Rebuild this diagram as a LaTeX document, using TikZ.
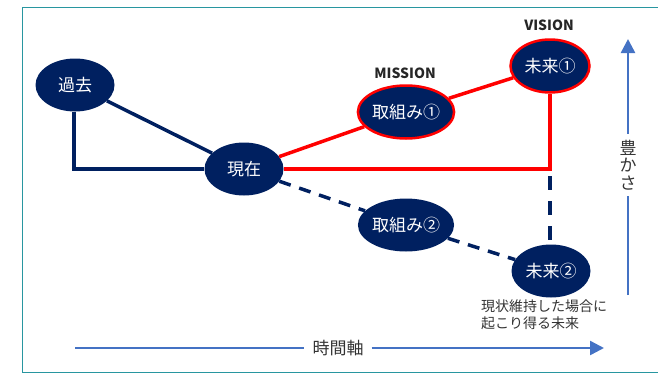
\documentclass[tikz,border=0pt]{standalone}
\usepackage{fontspec}
\setmainfont{Noto Sans CJK JP}
\usetikzlibrary{shapes.geometric,arrows.meta}
\definecolor{navy}{RGB}{0,32,96}
\definecolor{axisblue}{RGB}{68,114,196}
\definecolor{frameteal}{RGB}{40,150,160}
\begin{document}
\begin{tikzpicture}[x=1pt,y=-1pt,
  blob/.style={ellipse,fill=navy,text=white,inner sep=0pt,minimum width=79pt,minimum height=53pt,font=\fontsize{17}{19}\selectfont},
  redblob/.style={blob,draw=red,line width=2.5pt},
  solidline/.style={draw=navy,line width=3.5pt},
  redline/.style={draw=red,line width=3.5pt},
  dashline/.style={draw=navy,line width=3.5pt,dash pattern=on 12pt off 9pt},
  axis/.style={draw=axisblue,line width=2.5pt},
  lbl/.style={font=\fontsize{14}{16}\selectfont\bfseries,text=black!85},
  axislbl/.style={font=\fontsize{17}{19}\selectfont,text=black!80,inner sep=0pt}]
\useasboundingbox (0,0) rectangle (658,375);
\draw[frameteal,line width=1.5pt] (22.5,7.5) rectangle (663,372.5);
% nodes
\node[blob] (kako) at (75,85) {過去};
\node[blob] (genzai) at (244,169) {現在};
\node[redblob] (tori1) at (406,112) {取組み①};
\node[redblob] (mirai1) at (550,66) {未来①};
\node[blob] (tori2) at (406,225) {取組み②};
\node[blob] (mirai2) at (551,271) {未来②};
\coordinate (corner1) at (74,169);
\coordinate (corner2) at (550,169);
\coordinate (dstart) at (550,176);
\coordinate (dend) at (550,240);
% connectors
\draw[solidline] (kako) -- (genzai);
\draw[solidline] (kako.south -| corner1) -- (corner1) -- (genzai.west);
\draw[redline] (genzai) -- (tori1);
\draw[redline] (tori1) -- (mirai1);
\draw[redline,line join=miter] (genzai.east) -- (corner2) -- (mirai1.south);
\draw[dashline] (genzai) -- (tori2);
\draw[dashline] (tori2) -- (mirai2);
\draw[dashline,dash pattern=on 14pt off 11pt] (dstart) -- (dend);
% labels
\node[lbl] (mission) at (405,73) {MISSION};
\node[lbl] (vision) at (549,25) {VISION};
\node[font=\fontsize{14}{17}\selectfont,text=black!80,align=left,anchor=north west,inner sep=0pt] (note) at (481,300) {現状維持した場合に\\起こり得る未来};
% axes
\node[axislbl] (jikan) at (338,348) {時間軸};
\coordinate (tstart) at (75,348);
\coordinate (tend) at (604,348);
\draw[axis] (tstart) -- ([xshift=-8pt]jikan.west);
\draw[axis,-{Triangle[length=14pt,width=14pt]}] ([xshift=8pt]jikan.east) -- (tend);
\node[axislbl,align=center,font=\fontsize{17}{17.5}\selectfont] (yutaka) at (628,165) {豊\\か\\さ};
\coordinate (ystart) at (628,295);
\coordinate (yend) at (628,39);
\draw[axis] (ystart) -- ([yshift=-6pt]yutaka.south);
\draw[axis,-{Triangle[length=14pt,width=14pt]}] ([yshift=6pt]yutaka.north) -- (yend);
\end{tikzpicture}
\end{document}
